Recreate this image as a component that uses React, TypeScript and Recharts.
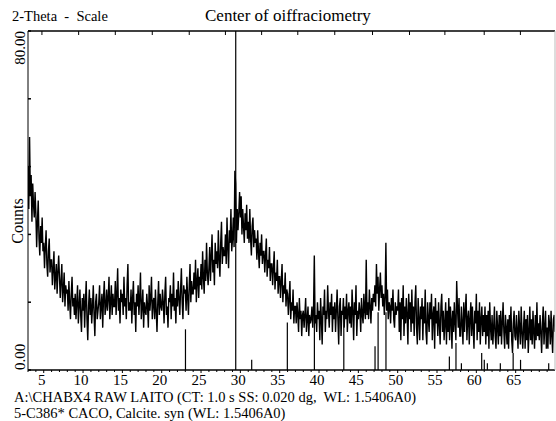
import React from 'react';
import { ComposedChart, Line, XAxis, YAxis, ReferenceLine } from 'recharts';

// measured counts, 3.0 to 70.0 deg 2-theta, one row per degree (0.1 deg steps)
const counts = [
  48, 38, 55, 41, 46, 35, 44, 39, 36, 42,
  37, 29, 35, 40, 31, 27, 34, 30, 36, 28,
  30, 24, 29, 33, 25, 22, 28, 31, 23, 26,
  26, 20, 24, 28, 19, 22, 25, 18, 23, 27,
  22, 17, 21, 25, 16, 19, 23, 15, 20, 18,
  19, 14, 21, 16, 12, 18, 22, 15, 17, 13,
  18, 12, 16, 20, 11, 15, 19, 13, 9, 17,
  14, 18, 10, 16, 21, 12, 7, 15, 19, 13,
  17, 11, 15, 20, 13, 8, 16, 18, 12, 14,
  16, 20, 12, 15, 18, 10, 17, 21, 13, 15,
  19, 14, 17, 22, 12, 16, 20, 13, 18, 15,
  15, 21, 13, 18, 24, 14, 17, 11, 19, 16,
  18, 13, 22, 15, 17, 12, 20, 25, 14, 16,
  14, 19, 11, 17, 21, 13, 16, 9, 18, 15,
  20, 13, 17, 23, 12, 15, 19, 10, 16, 14,
  13, 18, 15, 10, 20, 14, 17, 22, 12, 16,
  17, 12, 19, 14, 9, 16, 21, 13, 18, 15,
  14, 19, 16, 11, 18, 22, 13, 15, 10, 17,
  16, 20, 12, 18, 15, 23, 14, 17, 11, 19,
  15, 21, 17, 13, 19, 24, 16, 12, 20, 18,
  19, 14, 22, 17, 13, 20, 25, 16, 21, 18,
  18, 23, 19, 26, 16, 21, 24, 17, 22, 20,
  25, 19, 28, 22, 18, 26, 21, 30, 23, 20,
  24, 29, 21, 27, 32, 23, 26, 20, 30, 25,
  28, 24, 33, 26, 22, 30, 35, 25, 29, 27,
  27, 32, 25, 36, 29, 24, 33, 30, 38, 28,
  31, 36, 29, 47, 44, 30, 38, 33, 37, 42,
  36, 41, 32, 38, 34, 30, 37, 33, 39, 31,
  35, 30, 38, 31, 27, 34, 36, 29, 33, 30,
  31, 26, 33, 28, 24, 30, 27, 32, 25, 28,
  28, 23, 27, 31, 22, 26, 24, 29, 21, 25,
  25, 20, 24, 28, 19, 23, 21, 26, 18, 22,
  22, 17, 21, 25, 16, 20, 18, 23, 15, 19,
  18, 13, 17, 21, 12, 16, 14, 19, 11, 15,
  15, 11, 16, 13, 9, 17, 12, 14, 8, 13,
  14, 10, 13, 17, 9, 12, 15, 8, 13, 11,
  12, 15, 10, 14, 27, 11, 13, 9, 16, 12,
  14, 7, 17, 12, 6, 15, 13, 19, 9, 14,
  12, 20, 14, 10, 16, 13, 18, 9, 15, 12,
  16, 9, 14, 19, 12, 6, 15, 17, 8, 14,
  13, 17, 10, 15, 12, 18, 9, 14, 16, 11,
  15, 10, 19, 14, 7, 16, 13, 20, 8, 14,
  12, 16, 14, 9, 17, 13, 11, 18, 14, 12,
  26, 13, 16, 12, 19, 15, 11, 17, 14, 18,
  16, 20, 15, 25, 18, 22, 14, 19, 23, 17,
  20, 15, 18, 13, 17, 30, 14, 19, 12, 16,
  15, 11, 17, 14, 19, 12, 10, 16, 13, 15,
  14, 19, 9, 16, 7, 17, 12, 20, 8, 15,
  11, 17, 13, 6, 18, 12, 16, 9, 19, 11,
  15, 8, 16, 20, 10, 6, 17, 12, 7, 15,
  12, 17, 7, 15, 11, 19, 9, 6, 16, 12,
  9, 16, 12, 18, 7, 13, 15, 5, 17, 11,
  14, 8, 16, 11, 6, 15, 18, 9, 14, 7,
  11, 16, 6, 14, 9, 17, 7, 15, 12, 5,
  14, 9, 16, 11, 7, 21, 15, 10, 17, 8,
  8, 15, 11, 6, 16, 9, 14, 18, 7, 12,
  14, 6, 12, 16, 8, 15, 10, 5, 14, 11,
  18, 7, 14, 9, 16, 6, 12, 15, 8, 13,
  9, 15, 6, 13, 8, 14, 5, 16, 10, 7,
  13, 6, 10, 15, 8, 5, 14, 10, 6, 13,
  8, 14, 6, 11, 16, 9, 5, 13, 10, 6,
  12, 5, 13, 9, 15, 7, 4, 11, 14, 8,
  7, 13, 9, 5, 14, 10, 6, 15, 9, 5,
  10, 14, 5, 12, 7, 13, 4, 9, 15, 7,
  12, 6, 14, 9, 5, 13, 7, 16, 8, 11,
  7, 13, 9, 4, 11, 15, 6, 10, 14, 5,
  10, 5, 13, 11, 6, 14, 8, 4, 12, 13,
  9,
];
const START = 3;
const STEP = 0.1;

// 5-C386 calcite reference pattern: position, relative intensity (%)
const stickPos = [23.02, 29.41, 31.44, 35.97, 39.41, 43.15, 47.12, 47.51, 48.51, 56.57, 57.41, 58.1, 60.68, 61.01, 61.4, 63.05, 64.68, 65.62, 69.2];
const stickInt = [12, 100, 3, 14, 18, 18, 7, 17, 17, 4, 8, 2, 5, 3, 2, 2, 5, 3, 2];

const xTicks = Array.from({ length: 67 }, (_, i) => 3 + i);
const topTicks = [4.77, 9.44, 14.1, 18.8, 23.5, 28.1, 32.7, 37.3, 42, 46.8, 51.5, 56, 61, 65.6];
const yTicks = [0, 16, 32, 48, 64, 80];

const data = counts.map((c, i) => ({ tt: +(START + i * STEP).toFixed(1), c }));

const FONT = "'Liberation Serif', 'Times New Roman', Times, serif";

const BottomTick = (props: any) => {
  const { x, y, payload } = props;
  const v = payload.value;
  const major = v % 5 === 0;
  return (
    <g>
      <line x1={x} x2={x} y1={y} y2={y + (major ? 3 : 2)} stroke="#000" strokeWidth={1} />
      {major && (
        <text x={x - 2} y={y + 15} textAnchor="middle" style={{ fontFamily: FONT }} fontSize={15} fill="#000">
          {v}
        </text>
      )}
    </g>
  );
};

const TopTick = (props: any) => {
  const { x, y } = props;
  return <line x1={x} x2={x} y1={y} y2={y + 4} stroke="#000" strokeWidth={1} />;
};

const LeftTick = (props: any) => {
  const { x, y, payload } = props;
  const v = payload.value;
  return (
    <g>
      <line x1={x} x2={x + 3} y1={y} y2={y} stroke="#000" strokeWidth={1.5} />
      {v === 80 && (
        <text x={25} y={y} transform={`rotate(-90 25 ${y})`} textAnchor="end" style={{ fontFamily: FONT }} fontSize={15} fill="#000">
          80.00
        </text>
      )}
      {v === 0 && (
        <text x={25} y={y} transform={`rotate(-90 25 ${y})`} textAnchor="start" style={{ fontFamily: FONT }} fontSize={15} fill="#000">
          0.00
        </text>
      )}
    </g>
  );
};

const RightTick = (props: any) => {
  const { x, y, payload } = props;
  if (payload.value === 0 || payload.value === 80) return <g />;
  return <line x1={x - 4} x2={x} y1={y} y2={y} stroke="#000" strokeWidth={1.5} />;
};

const txt: React.CSSProperties = {
  position: 'absolute',
  fontFamily: FONT,
  fontSize: 14.5,
  color: '#000',
  whiteSpace: 'pre',
  lineHeight: 1,
};

export default function App() {
  return (
    <div style={{ position: 'absolute', left: 0, top: 0, width: 556, height: 421, background: '#fff', overflow: 'hidden', fontFamily: FONT }}>
      <ComposedChart width={556} height={421} data={data} margin={{ top: 0, right: 0, bottom: 0, left: 0 }}>
        <XAxis
          dataKey="tt"
          type="number"
          domain={[3, 70]}
          ticks={xTicks}
          height={51}
          tickSize={0}
          tickMargin={0}
          tickLine={false}
          axisLine={{ stroke: '#000', strokeWidth: 1.5 }}
          tick={<BottomTick />}
          interval={0}
          allowDataOverflow
        />
        <XAxis
          xAxisId="top"
          orientation="top"
          dataKey="tt"
          type="number"
          domain={[3, 70]}
          ticks={topTicks}
          height={31}
          tickSize={0}
          tickMargin={0}
          tickLine={false}
          axisLine={{ stroke: '#000', strokeWidth: 1.5 }}
          tick={<TopTick />}
          interval={0}
          allowDataOverflow
        />
        <YAxis
          type="number"
          domain={[0, 80]}
          ticks={yTicks}
          width={28}
          tickSize={0}
          tickMargin={0}
          tickLine={false}
          axisLine={{ stroke: '#000', strokeWidth: 1 }}
          tick={<LeftTick />}
          interval={0}
          allowDataOverflow
        />
        <YAxis
          yAxisId="right"
          orientation="right"
          type="number"
          domain={[0, 80]}
          ticks={yTicks}
          width={1}
          tickSize={0}
          tickMargin={0}
          tickLine={false}
          axisLine={{ stroke: '#bbb', strokeWidth: 1 }}
          tick={<RightTick />}
          interval={0}
        />
        {stickPos.map((p, i) => (
          <ReferenceLine
            key={i}
            segment={[{ x: p, y: 0 }, { x: p, y: (stickInt[i] * 80) / 100 }]}
            stroke="#000"
            strokeWidth={1.2}
            ifOverflow="extendDomain"
          />
        ))}
        <Line
          dataKey="c"
          type="linear"
          stroke="#000"
          strokeWidth={1.4}
          dot={false}
          isAnimationActive={false}
        />
      </ComposedChart>
      <div style={{ ...txt, left: 12, top: 9 }}>2-Theta  -  Scale</div>
      <div style={{ ...txt, left: 205, top: 7, fontSize: 17 }}>Center of oiffraciometry</div>
      <div style={{ ...txt, left: 11, top: 221, fontSize: 16, transform: 'translate(-50%, -50%) rotate(-90deg)', transformOrigin: 'center', marginLeft: 7 }}>Counts</div>
      <div style={{ ...txt, left: 14, top: 390 }}>A:\CHABX4 RAW LAITO (CT: 1.0 s SS: 0.020 dg,  WL: 1.5406A0)</div>
      <div style={{ ...txt, left: 14, top: 406 }}>5-C386* CACO, Calcite. syn (WL: 1.5406A0)</div>
    </div>
  );
}
